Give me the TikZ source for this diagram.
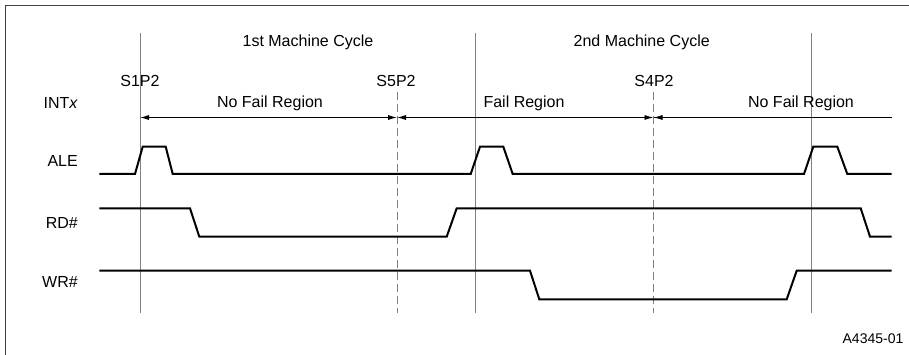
\documentclass[tikz,border=0pt]{standalone}
\usepackage{fontspec}
\setmainfont{Liberation Sans}
\usetikzlibrary{arrows.meta}

\tikzset{
	wave/.style={line width=2pt,line join=miter},
	marker/.style={gray,line width=0.9pt},
	dashmarker/.style={gray,line width=0.9pt,dash pattern=on 8pt off 4pt},
	region/.style={line width=0.9pt,arrows={Latex[length=9pt,width=5pt]-Latex[length=9pt,width=5pt]}},
	lbl/.style={font=\fontsize{16}{19}\selectfont,inner sep=0pt,anchor=base},
	sig/.style={lbl,anchor=base east}
}

\begin{document}
\begin{tikzpicture}[x=1pt,y=-1pt]
		\useasboundingbox (0,0) rectangle (909,355);
		\clip (0,0) rectangle (909,355);
		
		% frame
		\draw[line width=1.5pt,black!75] (5.5,360) -- (5.5,5.5) -- (915,5.5);
		
		% time markers
		\foreach \n/\x/\y in {s1/140/33,c2/475/33,c3/811/33,s5/397/92,s4/653.5/92}{
			\coordinate (\n t) at (\x,\y);
			\coordinate (\n b) at (\x,313);
		}
		\draw[marker] (s1t) -- (s1b);
		\draw[marker] (c2t) -- (c2b);
		\draw[marker] (c3t) -- (c3b);
		\draw[dashmarker] (s5t) -- (s5b);
		\draw[dashmarker] (s4t) -- (s4b);
		
		% cycle and state labels
		\node[lbl] (cyc1) at (308,46.7) {1st Machine Cycle};
		\node[lbl] (cyc2) at (641.7,46.7) {2nd Machine Cycle};
		\node[lbl] (s1p2) at (140,86.7) {S1P2};
		\node[lbl] (s5p2) at (396,86.7) {S5P2};
		\node[lbl] (s4p2) at (654,86.7) {S4P2};
		
		% regions
		\coordinate (r0) at (140,117.5);
		\coordinate (r1) at (397,117.5);
		\coordinate (r2) at (653.5,117.5);
		\coordinate (r3) at (892,117.5);
		\draw[region] (r0) -- (r1);
		\draw[region] (r1) -- (r2);
		\draw[region,-] ([xshift=0.1pt]r2) -- (r3);
		\draw[region,-{Latex[length=9pt,width=5pt]}] (r3) -- (r2);
		\node[lbl] (nofail1) at (270,107.7) {No Fail Region};
		\node[lbl] (fail) at (524,107.7) {Fail Region};
		\node[lbl] (nofail2) at (801,107.7) {No Fail Region};
		
		% signal names
		\node[sig] (intx) at (78,108.3) {INT\textit{x}};
		\node[sig] (ale) at (78,166.7) {ALE};
		\node[sig] (rd) at (78,228.3) {RD\#};
		\node[sig] (wr) at (78,287.7) {WR\#};
		
		% waveforms
		\draw[wave] (99.3,174) -- (135,174) -- (142.7,146.7) -- (165.7,146.7) -- (172.7,174)
			-- (470.7,174) -- (480,146.7) -- (503.3,146.7) -- (512.7,174)
			-- (804,174) -- (813.3,146.7) -- (837.3,146.7) -- (847.3,174) -- (891.7,174);
		\draw[wave] (99.3,208.3) -- (190,208.3) -- (199.3,236.7) -- (446.7,236.7) -- (456.7,208.3)
			-- (860.7,208.3) -- (870,236.7) -- (891.7,236.7);
		\draw[wave] (99.3,270.7) -- (530,270.7) -- (539.3,299.3) -- (786.7,299.3) -- (796.7,270.7)
			-- (891.7,270.7);
		
		\node[lbl,font=\fontsize{14}{17}\selectfont] (fig) at (873,343.3) {A4345-01};
\end{tikzpicture}
\end{document}
